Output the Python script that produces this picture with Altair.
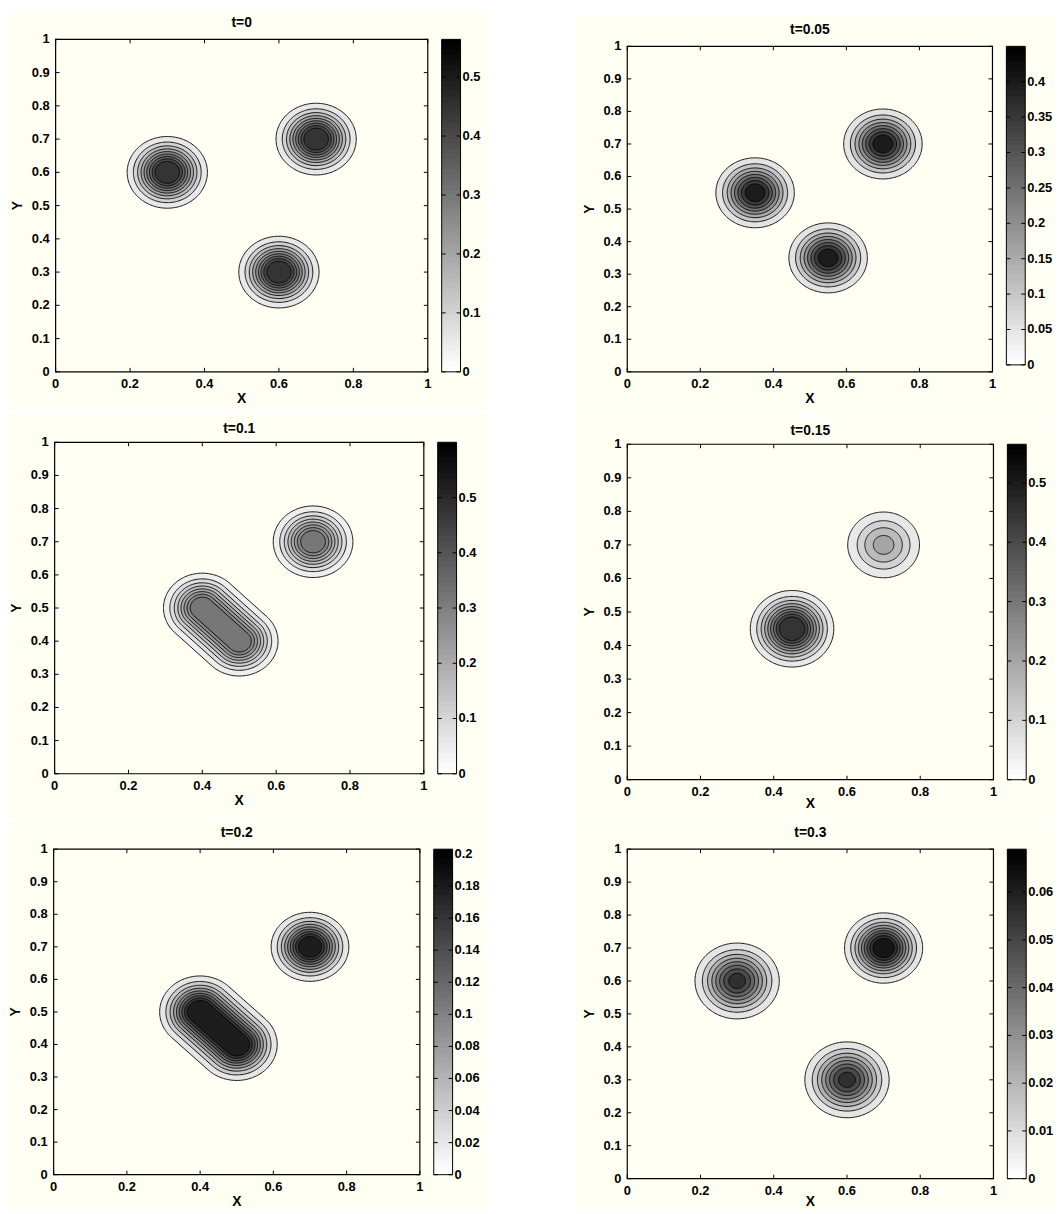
import math
import altair as alt
import pandas as pd

FONT = "Liberation Sans"
IVORY = "#fffff4"

# ---------------- data ----------------
panel_titles = ["t=0", "t=0.05", "t=0.1", "t=0.15", "t=0.2", "t=0.3"]

x_ticks = [0, 0.2, 0.4, 0.6, 0.8, 1]
y_ticks = [0, 0.1, 0.2, 0.3, 0.4, 0.5, 0.6, 0.7, 0.8, 0.9, 1]

# colour-bar upper limit and tick values of each panel
cbar_max = [0.564, 0.45, 0.60, 0.565, 0.203, 0.069]
cbar_ticks = [
    [0, 0.1, 0.2, 0.3, 0.4, 0.5],
    [0, 0.05, 0.1, 0.15, 0.2, 0.25, 0.3, 0.35, 0.4],
    [0, 0.1, 0.2, 0.3, 0.4, 0.5],
    [0, 0.1, 0.2, 0.3, 0.4, 0.5],
    [0, 0.02, 0.04, 0.06, 0.08, 0.1, 0.12, 0.14, 0.16, 0.18, 0.2],
    [0, 0.01, 0.02, 0.03, 0.04, 0.05, 0.06],
]

# contour levels of each panel
contour_levels = [
    [0.05, 0.1, 0.15, 0.2, 0.25, 0.3, 0.35, 0.4, 0.45],
    [0.05, 0.1, 0.15, 0.2, 0.25, 0.3, 0.35, 0.4],
    [0.04, 0.08, 0.12, 0.16, 0.2, 0.24, 0.28, 0.32],
    [0.05, 0.1, 0.15, 0.2, 0.25, 0.3, 0.35, 0.4, 0.45],
    [0.02, 0.04, 0.06, 0.08, 0.1, 0.12, 0.14, 0.16, 0.18],
    [0.007, 0.014, 0.021, 0.028, 0.035, 0.042, 0.049, 0.056, 0.063],
]

# concentration blobs: panel, ridge segment (x1,y1)-(x2,y2), peak value, width
blob_panel = [0, 0, 0, 1, 1, 1, 2, 2, 3, 3, 4, 4, 5, 5, 5]
blob_x1 = [0.3, 0.7, 0.6, 0.35, 0.55, 0.7, 0.4, 0.7, 0.45, 0.7, 0.4, 0.7, 0.3, 0.7, 0.6]
blob_y1 = [0.6, 0.7, 0.3, 0.55, 0.35, 0.7, 0.5, 0.7, 0.45, 0.7, 0.5, 0.7, 0.6, 0.7, 0.3]
blob_x2 = [0.3, 0.7, 0.6, 0.35, 0.55, 0.7, 0.5, 0.7, 0.45, 0.7, 0.5, 0.7, 0.3, 0.7, 0.6]
blob_y2 = [0.6, 0.7, 0.3, 0.55, 0.35, 0.7, 0.4, 0.7, 0.45, 0.7, 0.4, 0.7, 0.6, 0.7, 0.3]
blob_peak = [0.5635, 0.5635, 0.5635, 0.46, 0.46, 0.46, 0.40, 0.40, 0.566, 0.2265,
             0.23, 0.223, 0.061, 0.075, 0.061]
blob_width = [0.049, 0.049, 0.049, 0.051, 0.051, 0.051, 0.049, 0.0503, 0.0518, 0.0564,
              0.05, 0.0483, 0.0553, 0.049, 0.0553]

# ---------------- layout (page pixels) ----------------
col_x = [8, 578]
col_w = [570, 484]
row_y = [8, 412, 820]
row_h = [404, 408, 394]
plot_x = [56, 632, 55, 632, 54, 632]
plot_y = [35, 42, 441, 443, 851, 851]
plot_w = [375, 368, 372, 369, 369, 369]
plot_h = [335, 328, 334, 338, 328, 332]
cbar_h = [335, 321, 334, 338, 328, 332]
ivory_x0 = [8, 580, 8, 580, 8, 580]
ivory_x1 = [492, 1062, 492, 1062, 492, 1062]
ivory_y0 = [8, 12, 412, 416, 823, 823]
ivory_y1 = [408, 412, 820, 820, 1214, 1214]
title_y = [19, 26, 428, 430, 835, 835]
xtitle_dy = [27, 27, 27, 25, 28, 24]
CB_GAP, CB_W, TICK = 14, 19, 4


def gray_hex(g):
    g = max(0.0, min(1.0, g))
    v = int(round(g * 255))
    return "#%02x%02x%02x" % (v, v, v)


def fmt(v):
    s = ("%.4f" % v).rstrip("0").rstrip(".")
    return s if s else "0"


def ring_points(x1, y1, x2, y2, d, n=90):
    pts = []
    if abs(x2 - x1) < 1e-12 and abs(y2 - y1) < 1e-12:
        for k in range(2 * n):
            a = 2 * math.pi * k / (2 * n)
            pts.append((x1 + d * math.cos(a), y1 + d * math.sin(a)))
    else:
        ang = math.atan2(y2 - y1, x2 - x1)
        for k in range(n + 1):
            a = ang - math.pi / 2 + math.pi * k / n
            pts.append((x2 + d * math.cos(a), y2 + d * math.sin(a)))
        for k in range(n + 1):
            a = ang + math.pi / 2 + math.pi * k / n
            pts.append((x1 + d * math.cos(a), y1 + d * math.sin(a)))
    pts.append(pts[0])
    return pts


one = pd.DataFrame({"d": [0]})
TXT = dict(font=FONT, fontSize=13, fontWeight="bold", color="black")


def make_panel(i):
    c, r = i % 2, i // 2
    cx, cy = col_x[c], row_y[r]
    ox, oy = plot_x[i] - cx, plot_y[i] - cy
    W, H = plot_w[i], plot_h[i]
    cmax = cbar_max[i]
    levels = contour_levels[i]
    xs = alt.Scale(domain=[0, 1], range=[ox, ox + W], nice=False, zero=False)
    ys = alt.Scale(domain=[0, 1], range=[oy + H, oy], nice=False, zero=False)

    def X(f):
        return alt.X(f, scale=xs, axis=None)

    def Y(f):
        return alt.Y(f, scale=ys, axis=None)

    rows = []
    for b in range(len(blob_panel)):
        if blob_panel[b] != i:
            continue
        P, s = blob_peak[b], blob_width[b]
        for k, L in enumerate(levels):
            if L >= P:
                continue
            d = s * math.sqrt(2 * math.log(P / L))
            col = gray_hex(1 - L / cmax)
            for o, (px, py) in enumerate(ring_points(blob_x1[b], blob_y1[b],
                                                     blob_x2[b], blob_y2[b], d)):
                rows.append({"lev": k, "ring": f"b{b}_l{k}", "ord": o,
                             "x": px, "y": py, "col": col})
    poly = pd.DataFrame(rows)

    layers = []
    # panel background
    layers.append(alt.Chart(one).mark_rect(fill=IVORY, strokeWidth=0).encode(
        x=alt.value(ivory_x0[i] - cx), x2=alt.value(ivory_x1[i] - cx),
        y=alt.value(ivory_y0[i] - cy), y2=alt.value(ivory_y1[i] - cy)))

    # filled contour bands with black contour lines
    for k in range(len(levels)):
        layers.append(
            alt.Chart(poly).transform_filter(alt.datum.lev == k)
            .mark_line(stroke="black", strokeWidth=0.9)
            .encode(x=X("x:Q"), y=Y("y:Q"),
                    fill=alt.Fill("col:N", scale=None),
                    detail="ring:N", order="ord:Q"))

    # frame and inward ticks on all four sides
    layers.append(alt.Chart(one).mark_rect(fillOpacity=0, stroke="black", strokeWidth=1.2).encode(
        x=alt.value(ox), x2=alt.value(ox + W), y=alt.value(oy), y2=alt.value(oy + H)))
    xt = pd.DataFrame({"v": x_ticks, "lab": [fmt(v) for v in x_ticks]})
    yt = pd.DataFrame({"v": y_ticks, "lab": [fmt(v) for v in y_ticks]})
    layers.append(alt.Chart(xt).mark_rule(color="black", strokeWidth=1).encode(
        x=X("v:Q"), y=alt.value(oy + H), y2=alt.value(oy + H - TICK)))
    layers.append(alt.Chart(xt).mark_rule(color="black", strokeWidth=1).encode(
        x=X("v:Q"), y=alt.value(oy), y2=alt.value(oy + TICK)))
    layers.append(alt.Chart(yt).mark_rule(color="black", strokeWidth=1).encode(
        y=Y("v:Q"), x=alt.value(ox), x2=alt.value(ox + TICK)))
    layers.append(alt.Chart(yt).mark_rule(color="black", strokeWidth=1).encode(
        y=Y("v:Q"), x=alt.value(ox + W - TICK), x2=alt.value(ox + W)))

    # tick labels and axis titles
    layers.append(alt.Chart(xt).mark_text(align="center", baseline="middle", **TXT).encode(
        x=X("v:Q"), y=alt.value(oy + H + 12), text="lab:N"))
    layers.append(alt.Chart(yt).mark_text(align="right", baseline="middle", **TXT).encode(
        y=Y("v:Q"), x=alt.value(ox - 6), text="lab:N"))
    layers.append(alt.Chart(pd.DataFrame({"t": ["X"]})).mark_text(
        align="center", baseline="middle", font=FONT, fontSize=14, fontWeight="bold",
        color="black").encode(
        x=alt.value(ox + W / 2), y=alt.value(oy + H + xtitle_dy[i]), text="t:N"))
    layers.append(alt.Chart(pd.DataFrame({"t": ["Y"]})).mark_text(
        align="center", baseline="middle", angle=270, font=FONT, fontSize=14,
        fontWeight="bold", color="black").encode(
        x=alt.value(ox - 38), y=alt.value(oy + H / 2), text="t:N"))

    # colour bar (top-aligned with the plot, own height)
    f = cbar_h[i] / H
    base = 1 - f
    nstep = 64
    cb = pd.DataFrame({
        "lo": [base + f * j / nstep for j in range(nstep)],
        "hi": [base + f * min(j + 1.3, nstep) / nstep for j in range(nstep)],
        "col": [gray_hex(1 - j / (nstep - 1)) for j in range(nstep)],
    })
    bx0, bx1 = ox + W + CB_GAP, ox + W + CB_GAP + CB_W
    layers.append(alt.Chart(cb).mark_rect(strokeWidth=0).encode(
        y=Y("lo:Q"), y2="hi:Q", x=alt.value(bx0), x2=alt.value(bx1),
        fill=alt.Fill("col:N", scale=None)))
    layers.append(alt.Chart(one).mark_rect(fillOpacity=0, stroke="black", strokeWidth=1).encode(
        x=alt.value(bx0), x2=alt.value(bx1), y=alt.value(oy), y2=alt.value(oy + cbar_h[i])))
    ct = pd.DataFrame({"v": [base + f * t / cmax for t in cbar_ticks[i]],
                       "lab": [fmt(t) for t in cbar_ticks[i]]})
    layers.append(alt.Chart(ct).mark_rule(color="black", strokeWidth=1).encode(
        y=Y("v:Q"), x=alt.value(bx0), x2=alt.value(bx0 + TICK)))
    layers.append(alt.Chart(ct).mark_rule(color="black", strokeWidth=1).encode(
        y=Y("v:Q"), x=alt.value(bx1 - TICK), x2=alt.value(bx1)))
    layers.append(alt.Chart(ct).mark_text(align="left", baseline="middle", dx=2, **TXT).encode(
        y=Y("v:Q"), x=alt.value(bx1), text="lab:N"))

    # panel title
    layers.append(alt.Chart(pd.DataFrame({"t": [panel_titles[i]]})).mark_text(
        align="center", baseline="middle", font=FONT, fontSize=14, fontWeight="bold",
        color="black").encode(
        x=alt.value(ox + W / 2), y=alt.value(title_y[i] - cy), text="t:N"))

    return alt.layer(*layers).properties(width=col_w[c], height=row_h[r])


chart = alt.concat(*[make_panel(i) for i in range(6)], columns=2, spacing=0,
                   bounds="flush", align="each").properties(
    padding=0, background="white").configure_view(strokeWidth=0)

chart.save("out.html", embed_options={"renderer": "svg", "actions": False})
